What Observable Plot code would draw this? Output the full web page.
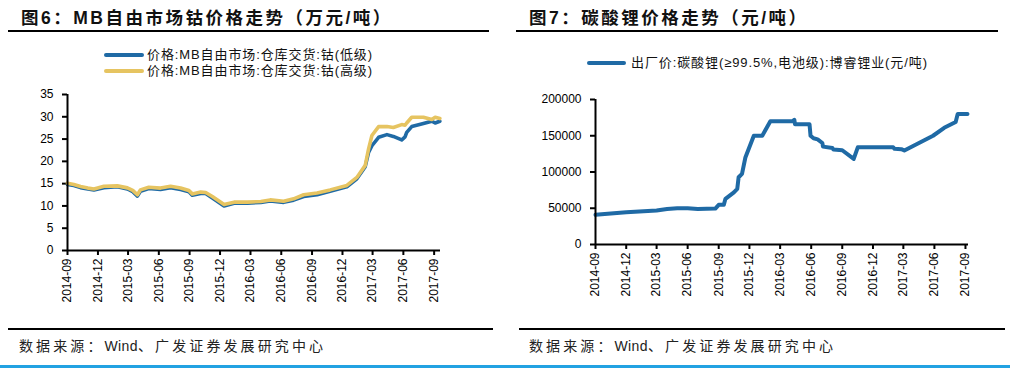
<!DOCTYPE html>
<html>
<head>
<meta charset="utf-8">
<script src="https://cdn.jsdelivr.net/npm/d3@7"></script>
<script src="https://cdn.jsdelivr.net/npm/@observablehq/plot@0.6"></script>
<style>
  html, body { margin: 0; padding: 0; background: #fff; }
  #root { position: relative; width: 1010px; height: 369px; overflow: hidden; background: #fff;
          font-family: "Liberation Sans", Arial, "Noto Sans CJK SC", sans-serif; color: #000; }
  .abs { position: absolute; white-space: nowrap; }
  .title { font-family: "Liberation Sans", "Noto Sans CJK SC", sans-serif; font-weight: bold; font-size: 17.5px; letter-spacing: 2.5px; line-height: 20px; color: #111; }
  .rule { position: absolute; background: #000; }
  .legend { font-family: "Liberation Sans", "Noto Sans CJK SC", sans-serif; font-size: 13px; letter-spacing: 0.9px; line-height: 16px; color: #111; }
  .swatch { position: absolute; height: 4px; border-radius: 2px; }
  .foot { font-family: "Noto Sans CJK SC", sans-serif; font-size: 14px; letter-spacing: 3.1px; line-height: 18px; color: #222; }
  .foot .lat { font-family: "Liberation Sans", Arial, sans-serif; letter-spacing: 0.4px; }
  svg [aria-label$="tick"] { stroke-width: 2; }
</style>
</head>
<body>
<div id="root"></div>
<script>
// ---------------- data ----------------
const xTickLabels = ["2014-09","2014-12","2015-03","2015-06","2015-09","2015-12","2016-03","2016-06","2016-09","2016-12","2017-03","2017-06","2017-09"];
const cobaltYTicks = [0, 5, 10, 15, 20, 25, 30, 35];
const lithiumYTicks = [0, 50000, 100000, 150000, 200000];

const cobaltDates = ["2014-09-01","2014-09-20","2014-10-10","2014-11-01","2014-11-19","2014-12-19","2015-01-28","2015-02-27","2015-03-15","2015-03-29","2015-04-07","2015-05-02","2015-06-06","2015-07-06","2015-08-05","2015-08-30","2015-09-09","2015-10-04","2015-10-19","2015-11-08","2015-12-13","2016-01-12","2016-02-21","2016-04-01","2016-04-29","2016-06-08","2016-07-08","2016-08-07","2016-09-16","2016-10-25","2016-12-14","2017-01-13","2017-02-07","2017-02-17","2017-02-27","2017-03-19","2017-04-13","2017-05-02","2017-05-27","2017-06-06","2017-06-11","2017-06-26","2017-07-31","2017-08-25","2017-09-04","2017-09-18"];
const cobaltLow  = [14.8,14.6,14.1,13.8,13.6,14.1,14.3,13.8,13.2,12.2,13.3,13.9,13.7,14.1,13.7,13.2,12.4,12.8,12.8,11.8,10.0,10.6,10.6,10.8,11.1,10.8,11.3,12.1,12.5,13.3,14.3,16.1,18.8,22.0,23.5,25.4,26.0,25.6,24.8,25.5,26.5,27.8,28.5,29.0,28.6,29.0];
const cobaltHigh = [15.1,14.8,14.35,14.0,13.8,14.4,14.5,14.05,13.5,12.5,13.6,14.2,14.0,14.4,14.0,13.45,12.7,13.1,13.0,12.1,10.3,10.85,10.85,11.0,11.35,11.05,11.6,12.5,12.9,13.6,14.6,16.4,19.1,22.8,25.8,27.8,27.8,27.6,28.25,28.1,28.6,29.9,29.9,29.4,29.9,29.6];

const lithiumDates = ["2014-09-01","2014-12-01","2015-03-01","2015-04-01","2015-05-01","2015-06-01","2015-07-01","2015-08-22","2015-09-01","2015-09-16","2015-09-21","2015-10-16","2015-10-26","2015-10-30","2015-11-09","2015-11-19","2015-12-14","2016-01-08","2016-02-01","2016-04-07","2016-04-12","2016-04-14","2016-05-27","2016-05-30","2016-06-08","2016-06-20","2016-07-04","2016-07-06","2016-08-03","2016-08-06","2016-09-01","2016-10-05","2016-10-17","2017-01-30","2017-02-03","2017-02-23","2017-03-04","2017-05-28","2017-06-30","2017-08-03","2017-08-09","2017-09-07"];
const lithiumPrice = [41000,44500,47000,49000,50000,50000,49000,49500,54700,54700,63000,72000,76800,92800,97500,120000,150000,150000,170000,170000,172000,166000,166000,150000,146500,145000,140000,135000,133000,131000,130000,118000,134000,134000,132000,131500,129600,150000,161000,169000,180000,180000];

// ---------------- helpers ----------------
const parse = d3.utcParse("%Y-%m-%d");
const tickDates = xTickLabels.map(s => parse(s + "-01"));
const fmt = d3.utcFormat("%Y-%m");
const BLUE = "#1f6aa5", GOLD = "#e6c461";

const cobalt = cobaltDates.map((d, i) => ({date: parse(d), low: cobaltLow[i], high: cobaltHigh[i]}));
const lithium = lithiumDates.map((d, i) => ({date: parse(d), price: lithiumPrice[i]}));

const root = document.getElementById("root");
function add(html) { root.insertAdjacentHTML("beforeend", html); }

// ---------------- text & decorations ----------------
add(`<div class="abs title" style="left:21px;top:8px">图6：MB自由市场钴价格走势（万元/吨）</div>`);
add(`<div class="rule" style="left:8px;top:30px;width:481px;height:1.5px"></div>`);
add(`<div class="abs title" style="left:529px;top:8px">图7：碳酸锂价格走势（元/吨）</div>`);
add(`<div class="rule" style="left:516px;top:30px;width:482px;height:1.5px"></div>`);

add(`<div class="swatch" style="left:104px;top:53px;width:40px;background:${BLUE}"></div>`);
add(`<div class="abs legend" style="left:147px;top:47px">价格:MB自由市场:仓库交货:钴(低级)</div>`);
add(`<div class="swatch" style="left:104px;top:69px;width:40px;background:${GOLD}"></div>`);
add(`<div class="abs legend" style="left:147px;top:63px">价格:MB自由市场:仓库交货:钴(高级)</div>`);

add(`<div class="swatch" style="left:587px;top:61px;width:39px;background:${BLUE}"></div>`);
add(`<div class="abs legend" style="left:631px;top:55px">出厂价:碳酸锂(≥99.5%,电池级):博睿锂业(元/吨)</div>`);

add(`<div class="rule" style="left:8px;top:328px;width:485px;height:1.5px"></div>`);
add(`<div class="rule" style="left:519px;top:328px;width:486px;height:1.5px"></div>`);
add(`<div class="abs foot" style="left:19px;top:336px">数据来源：<span class="lat">Wind</span>、广发证券发展研究中心</div>`);
add(`<div class="abs foot" style="left:529px;top:336px">数据来源：<span class="lat">Wind</span>、广发证券发展研究中心</div>`);
add(`<div class="rule" style="left:0;top:365px;width:1010px;height:2.5px;background:#22a2e2"></div>`);

// ---------------- charts ----------------
const commonStyle = {fontFamily: "'Liberation Sans', Arial, sans-serif", fontSize: "12px", color: "#000", background: "transparent", overflow: "visible"};

const left = Plot.plot({
  width: 505, height: 230,
  marginLeft: 67, marginRight: 65, marginTop: 14, marginBottom: 60,
  style: commonStyle,
  x: {type: "utc", domain: [parse("2014-09-01"), parse("2017-09-20")], ticks: tickDates, tickFormat: fmt,
      tickRotate: -90, tickSize: 5, tickPadding: 3, label: null},
  y: {domain: [0, 35], ticks: cobaltYTicks, tickSize: 5, tickPadding: 9, label: null},
  marks: [
    Plot.line(cobalt, {x: "date", y: "low", stroke: BLUE, strokeWidth: 3.6}),
    Plot.line(cobalt, {x: "date", y: "high", stroke: GOLD, strokeWidth: 3.6}),
    Plot.ruleX([parse("2014-09-01")], {stroke: "#000", strokeWidth: 2}),
    Plot.ruleY([0], {stroke: "#000", strokeWidth: 2})
  ]
});
left.style.position = "absolute"; left.style.left = "0px"; left.style.top = "80px";
root.appendChild(left);

const right = Plot.plot({
  width: 505, height: 230,
  marginLeft: 90, marginRight: 42, marginTop: 19, marginBottom: 66,
  style: commonStyle,
  x: {type: "utc", domain: [parse("2014-09-01"), parse("2017-09-10")], ticks: tickDates, tickFormat: fmt,
      tickRotate: -90, tickSize: 5, tickPadding: 3, label: null},
  y: {domain: [0, 200000], ticks: lithiumYTicks, tickFormat: d => String(d), tickSize: 5, tickPadding: 9, label: null},
  marks: [
    Plot.line(lithium, {x: "date", y: "price", stroke: BLUE, strokeWidth: 4}),
    Plot.ruleX([parse("2014-09-01")], {stroke: "#000", strokeWidth: 2}),
    Plot.ruleY([0], {stroke: "#000", strokeWidth: 2})
  ]
});
right.style.position = "absolute"; right.style.left = "505px"; right.style.top = "80px";
root.appendChild(right);
</script>
</body>
</html>
